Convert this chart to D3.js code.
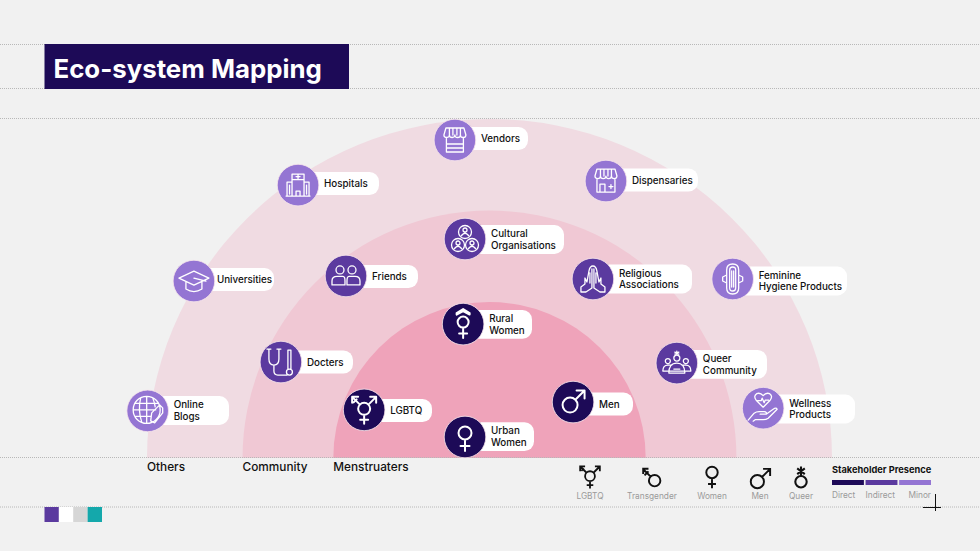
<!DOCTYPE html>
<html>
<head>
<meta charset="utf-8">
<script src="https://cdn.jsdelivr.net/npm/d3@7"></script>
<style>
html, body { margin: 0; padding: 0; background: #f1f1f1; }
svg { display: block; }
text { font-family: Inter, "Noto Sans", sans-serif; }
</style>
</head>
<body>
<div id="viewContainer"></div>
<script>
// ring reach, outer ring = 100
const ringNames = ["Others", "Community", "Menstruaters"];
const ringValues = [100, 72.1, 45.6];
const ringHeights = [100, 73, 46];

// stakeholders: x runs -100..100 across the half circle, y runs 0..100 upward
const nodeNames = [
    ["Vendors"], ["Hospitals"], ["Dispensaries"], ["Cultural", "Organisations"],
    ["Friends"], ["Religious", "Associations"], ["Feminine", "Hygiene Products"], ["Universities"],
    ["Rural", "Women"], ["Docters"], ["Queer", "Community"], ["Men"],
    ["LGBTQ"], ["Online", "Blogs"], ["Wellness", "Products"], ["Urban", "Women"]
];
const nodeX = [-10.1, -55.9, 34, -7.15, -41.9, 30.2, 71, -86.3, -7.7, -60.9, 54.7, 24.4, -36.6, -99.8, 79.9, -7.15];
const nodeY = [93.8, 80.5, 81.7, 64.6, 53.7, 52.8, 52.8, 52.2, 39.5, 28.3, 28, 16.5, 14.2, 13.9, 14.7, 6.2];
const nodePresence = ["Minor", "Minor", "Minor", "Indirect", "Indirect", "Indirect", "Minor", "Minor",
    "Direct", "Indirect", "Indirect", "Direct", "Direct", "Minor", "Minor", "Direct"];
const nodeIcons = ["vendor", "hospital", "dispensary", "culture", "friends", "pray", "pad", "cap",
    "rural", "stetho", "queerGroup", "male", "lgbtq", "globe", "wellness", "female"];

const genderNames = ["LGBTQ", "Transgender", "Women", "Men", "Queer"];
const genderIcons = ["lgbtq", "trans", "female", "male", "queer"];
const presenceNames = ["Direct", "Indirect", "Minor"];
const swatchColors = ["#5b3a9f", "#ffffff", "#d6d6d6", "#14a8ab"];

const width = 980, height = 551;
const presenceColor = d3.scaleOrdinal().domain(presenceNames).range(["#1d0a57", "#5b3a9f", "#9475d3"]);
const ringColor = d3.scaleOrdinal().domain(ringNames).range(["#f0dbe2", "#f0c8d4", "#efa3ba"]);
const x = d3.scaleLinear().domain([-100, 100]).range([147, 832]);
const y = d3.scaleLinear().domain([0, 100]).range([458, 119]);

// label pills, by node order: right edge and vertical middle on the page
const pillEnd = [528, 379, 698, 564, 418, 692, 847, 274, 532, 353, 767, 633, 432, 229, 855, 534];
const pillMid = [138.5, 183.5, 180, 239.5, 276.5, 279, 281, 279.5, 324.3, 362, 364.3, 404, 410.5, 410.5, 409, 436.7];

function ring(cx, cy, r) {
    return `M${cx - r} ${cy}a${r} ${r} 0 1 0 ${2 * r} 0a${r} ${r} 0 1 0 ${-2 * r} 0`;
}

const awning = "M-9 -12H9L11 -5Q11 -2.5 8.2 -2.5Q5.5 -2.5 5.5 -5Q5.5 -2.5 2.7 -2.5Q0 -2.5 0 -5Q0 -2.5 -2.7 -2.5Q-5.5 -2.5 -5.5 -5Q-5.5 -2.5 -8.2 -2.5Q-11 -2.5 -11 -5ZM-5.5 -12V-5M-2 -12V-5M2 -12V-5M5.5 -12V-5";

const icons = {
    vendor: awning + "M-8.5 -2.5V12H8.5V-2.5M-8.5 4H8.5M-8.5 8H8.5",
    dispensary: awning + "M-9 -2.5V11H9V-2.5M-6 11V3H-1V11M3 5.5H7M5 3.5V7.5",
    hospital: "M-6 11V-11H6V11M-6 -5.5H6M-11 11V-3H-6M11 11V-3H6M-12 11H12M-2 11V6H2V11M-2 -8.5H2M0 -10.5V-6.5M-8.5 0V9M8.5 0V9",
    culture: ring(0, -7, 6.5) + ring(-7, 6, 6.5) + ring(7, 6, 6.5)
        + ring(0, -9, 2) + "M-3.5 -3.5Q0 -8 3.5 -3.5" + ring(-7, 4, 2) + "M-10.5 9.5Q-7 5 -3.5 9.5" + ring(7, 4, 2) + "M3.5 9.5Q7 5 10.5 9.5",
    friends: ring(-6, -6, 4) + ring(6, -6, 4)
        + "M-14 9V5Q-14 0.5 -9 0.5H-3Q-1 0.5 -1 5V9ZM1 9V5Q1 0.5 3 0.5H9Q14 0.5 14 5V9Z",
    pray: "M0 -13Q-3 -13 -4 -8L-6 3L-8 -1V5L-12 8V13L-7 13L-1 9V-10M0 -13Q3 -13 4 -8L6 3L8 -1V5L12 8V13L7 13L1 9V-10M-3 -6V4M3 -6V4",
    pad: "M-6 -9Q-6 -15 0 -15Q6 -15 6 -9V9Q6 15 0 15Q-6 15 -6 9ZM-6 -4L-10 -2V2L-6 4M6 -4L10 -2V2L6 4M-3 -9Q-3 -12 0 -12Q3 -12 3 -9V9Q3 12 0 12Q-3 12 -3 9ZM-1 -8V8M1 -8V8",
    cap: "M0 -10L15 -3L0 4L-15 -3ZM-8 1V8Q0 13 8 8V1M0 -3L12 0",
    stetho: "M-12 -13V-3Q-12 3 -7 3Q-2 3 -2 -3V-13M-7 3V9Q-7 13 -3 13H6M-14 -13H-10M-4 -13H0M7 -12V7M10 -12V7M7 -12H10" + ring(8.5, 10, 3),
    queerGroup: ring(0, -5, 3) + ring(-9, -2, 2.5) + ring(9, -2, 2.5)
        + "M0 -12V-8M-2 -11L2 -9M2 -11L-2 -9M-14 8Q-14 2 -9 2H-5M14 8Q14 2 9 2H5M-8 10Q-8 0 0 0Q8 0 8 10ZM-14 8H14M-3 6H3",
    globe: ring(-1, -1, 13.5) + "M-14.5 -1H8M-12 -7.5H11M-12 5.5H3M-1 -14.5V12M-7 -13Q-10 -1 -6 11M5 -13Q7 -8 7.5 -4M4 2L12 -6L15 -3L15 2L7 12L3 10Z",
    wellness: "M0 -1L-7 -8Q-10 -12 -6.5 -14.5Q-3 -16 0 -12.5Q3 -16 6.5 -14.5Q10 -12 7 -8ZM-5.5 -7.5H-2L-1 -10L1 -5.5L2 -8H5.5M-15 12L-9 5Q-7 3.5 -4 3.5H1Q4 3.5 3 6H-3M3 6L10 1Q13 -1 14 1L5 10Q3 11.5 0 11.5H-8L-10 13",
    rural: ring(0, -2, 5.5) + "M-6.5 -11L0 -15L6.5 -11V-9.5L0 -13L-6.5 -9.5ZM0 3.5V14M-4 9.5H4",
    female: ring(0, -4, 6.5) + "M0 2.5V14M-4.5 9H4.5",
    male: ring(-3, 3, 7.5) + "M2.5 -2.5L11 -11M3.5 -11.5H11.5V-3.5",
    lgbtq: ring(0, -1, 6) + "M0 5V14M-4 10H4M4.5 -5.5L11.5 -12.5M6 -13H12V-7M-4.5 -5.5L-11.5 -12.5M-12 -7V-13H-6M-10.5 -7.5L-7.5 -10.5",
    trans: ring(3, 3, 6.5) + "M-1.5 -1.5L-10 -10M-10 -4.5V-10.5H-4M-8.5 -3L-4 -7.5",
    queer: ring(0, 5, 6) + "M0 -1V-11M-4 -9L4 -3M4 -9L-4 -3"
};

function init() {
    const svg = d3.select("#viewContainer").append("svg").attr("width", width).attr("height", height);

    svg.append("rect").attr("width", width).attr("height", height).attr("fill", "#f1f1f1");

    const arc = d3.arc().innerRadius(0).startAngle(-Math.PI / 2).endAngle(Math.PI / 2);
    svg.selectAll(".ring").data(ringValues).join("path")
        .attr("class", "ring")
        .attr("transform", (d, i) => `translate(${x(0)},${y(0)}) scale(1,${(y(0) - y(ringHeights[i])) / (x(d) - x(0))})`)
        .attr("d", d => arc.outerRadius(x(d) - x(0))())
        .attr("fill", (d, i) => ringColor(ringNames[i]));

    svg.selectAll(".rule").data([44.5, 88.5, 118.5, 457.5, 507]).join("line")
        .attr("class", "rule")
        .attr("x1", 0).attr("x2", width).attr("y1", d => d).attr("y2", d => d)
        .attr("stroke", "#b8b8b8").attr("stroke-width", 1).attr("stroke-dasharray", "1 1");

    // title block
    svg.append("rect").attr("x", 44.5).attr("y", 44).attr("width", 304.5).attr("height", 45).attr("fill", "#1d0a57");
    svg.append("text").attr("x", 53.5).attr("y", 78).attr("fill", "#fff")
        .attr("font-size", 25.8).attr("font-weight", 700).text("Eco-system Mapping");

    // ring names sit at each ring's left foot
    svg.selectAll(".ringName").data(ringNames).join("text")
        .attr("class", "ringName")
        .attr("x", (d, i) => x(-ringValues[i]))
        .attr("y", 471).attr("font-size", 11.8).attr("font-weight", 500).attr("fill", "#111")
        .text(d => d);

    const node = svg.selectAll(".node").data(nodeNames).join("g")
        .attr("class", "node")
        .attr("transform", (d, i) => `translate(${x(nodeX[i])},${y(nodeY[i])})`);

    node.append("rect")
        .attr("x", 0)
        .attr("y", (d, i) => pillMid[i] - y(nodeY[i]) - (nodeNames[i].length > 1 ? 14.4 : 11.5))
        .attr("width", (d, i) => pillEnd[i] - x(nodeX[i]))
        .attr("height", (d, i) => nodeNames[i].length > 1 ? 28.8 : 23)
        .attr("rx", 9.5)
        .attr("fill", "#fff");

    node.append("circle").attr("r", 20.8)
        .attr("fill", (d, i) => presenceColor(nodePresence[i]))
        .attr("stroke", "#f7e6ec").attr("stroke-width", 0.8);

    node.append("path")
        .attr("d", (d, i) => icons[nodeIcons[i]])
        .attr("fill", "none").attr("stroke", "#fff")
        .attr("stroke-width", (d, i) => nodePresence[i] === "Direct" ? 2 : 1.3)
        .attr("stroke-linejoin", "round").attr("stroke-linecap", "round");

    node.each(function (d, n) {
        const t = d3.select(this).append("text").attr("font-size", 9.8).attr("font-weight", 500).attr("fill", "#111");
        const gap = d[0] === "Universities" ? 23 : 26;
        d.forEach((line, i) => {
            t.append("tspan").attr("x", gap)
                .attr("y", pillMid[n] - y(nodeY[n]) + (i - (d.length - 1) / 2) * 11.6 + 3.5)
                .text(line);
        });
    });

    drawLegend(svg);
    drawFooter(svg);
}

function drawLegend(svg) {
    const genderX = [590, 652, 712, 760, 801];
    const symbolY = [477, 478, 476, 479, 477];
    const symbolScale = [0.82, 0.88, 0.88, 0.88, 0.95];

    const g = svg.selectAll(".gender").data(genderNames).join("g").attr("class", "gender");
    g.append("path")
        .attr("transform", (d, i) => `translate(${genderX[i]},${symbolY[i]}) scale(${symbolScale[i]})`)
        .attr("d", (d, i) => icons[genderIcons[i]])
        .attr("fill", "none").attr("stroke", "#111").attr("stroke-width", 2.2);
    g.append("text")
        .attr("x", (d, i) => genderX[i]).attr("y", 499)
        .attr("text-anchor", "middle").attr("font-size", 8.3).attr("fill", "#9a9a9a")
        .text(d => d);

    svg.append("text").attr("x", 832).attr("y", 473)
        .attr("font-size", 9.25).attr("font-weight", 700).attr("fill", "#111").text("Stakeholder Presence");

    const bx = d3.scaleBand().domain(presenceNames).range([832, 931]).paddingInner(0.05);
    svg.selectAll(".presence").data(presenceNames).join("rect")
        .attr("class", "presence")
        .attr("x", d => bx(d)).attr("y", 480).attr("width", bx.bandwidth()).attr("height", 5)
        .attr("fill", d => presenceColor(d));
    svg.selectAll(".presenceName").data(presenceNames).join("text")
        .attr("class", "presenceName")
        .attr("x", (d, i) => i === 2 ? 931 : bx(d))
        .attr("y", 498)
        .attr("text-anchor", (d, i) => i === 2 ? "end" : "start")
        .attr("font-size", 8.3).attr("fill", "#9a9a9a")
        .text(d => d);
}

function drawFooter(svg) {
    const sx = d3.scaleBand().domain(d3.range(swatchColors.length)).range([44.5, 102]);
    svg.selectAll(".swatch").data(swatchColors).join("rect")
        .attr("class", "swatch")
        .attr("x", (d, i) => sx(i)).attr("y", 507).attr("width", sx.bandwidth()).attr("height", 15)
        .attr("fill", d => d);

    // registration cross bottom right
    svg.append("path").attr("d", "M923 507.5H941M935.5 494V511")
        .attr("stroke", "#111").attr("stroke-width", 1).attr("fill", "none");
}

init();
</script>
</body>
</html>
